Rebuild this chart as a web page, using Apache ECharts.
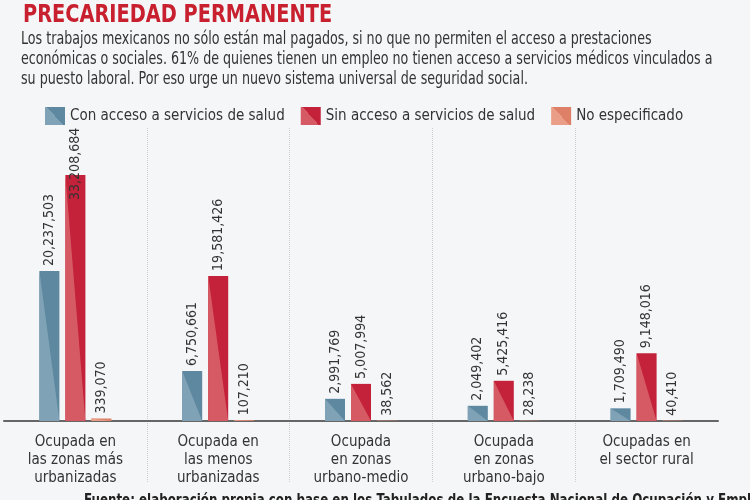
<!DOCTYPE html>
<html>
<head>
<meta charset="utf-8">
<script src="https://cdn.jsdelivr.net/npm/echarts@6/dist/echarts.min.js"></script>
<style>
  html, body { margin: 0; padding: 0; background: #f4f6f7; }
  #chart { width: 750px; height: 500px; }
</style>
</head>
<body>
<div id="chart"></div>
<script>
const categorias = [
  'Ocupada en\nlas zonas más\nurbanizadas',
  'Ocupada en\nlas menos\nurbanizadas',
  'Ocupada\nen zonas\nurbano-medio',
  'Ocupada\nen zonas\nurbano-bajo',
  'Ocupadas en\nel sector rural'
]
const seriesNames = ['Con acceso a servicios de salud', 'Sin acceso a servicios de salud', 'No especificado']
const conAcceso = [20237503, 6750661, 2991769, 2049402, 1709490]
const sinAcceso = [33208684, 19581426, 5007994, 5425416, 9148016]
const noEspecificado = [339070, 107210, 38562, 28238, 40410]

const FONT = '"DejaVu Sans Condensed", "Liberation Sans Narrow", sans-serif'
// color oscuro / claro de cada serie (triangulo claro abajo-izquierda)
const dark = ['#5d889f', '#c4213a', '#de8068']
const light = ['#7fa2b6', '#d65a63', '#ea9d87']
const BAR_W = 20
const offsets = [-26, 0, 26]

function fmt(v) {
  return String(v).replace(/\B(?=(\d{3})+(?!\d))/g, ',')
}

const chart = echarts.init(document.getElementById('chart'))

const labelBase = {
  show: true,
  position: 'top',
  rotate: 90,
  align: 'left',
  verticalAlign: 'middle',
  distance: 5,
  fontFamily: FONT,
  fontSize: 14,
  color: '#333',
  formatter: p => fmt(p.value)
}

function barSeries(idx, values) {
  return {
    name: seriesNames[idx],
    type: 'bar',
    barWidth: BAR_W,
    barGap: '30%',
    itemStyle: { color: dark[idx] },
    label: labelBase,
    z: 2,
    data: values.map((v, i) => {
      // la etiqueta de la barra mas alta se mete dentro de la barra
      if (idx === 1 && i === 0) return { value: v, label: { distance: -25 } }
      return v
    })
  }
}

function triangleSeries(idx, values) {
  return {
    type: 'custom',
    silent: true,
    z: 3,
    renderItem: (params, api) => {
      const top = api.coord([api.value(0), api.value(1)])
      const base = api.coord([api.value(0), 0])
      const x = top[0] + offsets[idx] - BAR_W / 2
      return {
        type: 'polygon',
        shape: { points: [[x, top[1]], [x + BAR_W, base[1]], [x, base[1]]] },
        style: { fill: light[idx] }
      }
    },
    data: values.map((v, i) => [i, v])
  }
}

const sepLine = {
  show: true,
  showMinLine: false,
  showMaxLine: false,
  lineStyle: { color: '#c9cdd0', type: 'dotted', width: 1 }
}

chart.setOption({
  backgroundColor: '#f4f6f7',
  legend: {
    left: 40,
    top: 102,
    itemWidth: 20,
    itemHeight: 18,
    itemGap: 16,
    textStyle: { color: '#333', fontSize: 15, fontFamily: FONT },
    data: seriesNames.map((n, i) => ({
      name: n,
      icon: 'rect',
      itemStyle: {
        color: new echarts.graphic.LinearGradient(0, 1, 1, 0, [
          { offset: 0, color: light[i] },
          { offset: 0.5, color: light[i] },
          { offset: 0.5, color: dark[i] },
          { offset: 1, color: dark[i] }
        ])
      }
    }))
  },
  grid: [
    { left: 4, right: 32, top: 128, bottom: 79, outerBoundsMode: 'none' },
    // segunda rejilla solo para prolongar los separadores por la zona de etiquetas
    { left: 4, right: 32, top: 421, bottom: 18, outerBoundsMode: 'none' }
  ],
  xAxis: [
    {
      type: 'category',
      data: categorias,
      axisLine: { lineStyle: { color: '#666', width: 2 } },
      axisTick: { show: false },
      splitLine: sepLine,
      axisLabel: {
        interval: 0,
        margin: 12,
        color: '#333',
        fontSize: 15,
        lineHeight: 18,
        fontFamily: FONT
      }
    },
    {
      type: 'category',
      gridIndex: 1,
      data: categorias,
      axisLine: { show: false },
      axisTick: { show: false },
      axisLabel: { show: false },
      splitLine: sepLine
    }
  ],
  yAxis: [
    { type: 'value', show: false, min: 0, max: 39540000, splitLine: { show: false } },
    { type: 'value', gridIndex: 1, show: false, min: 0, max: 1, splitLine: { show: false } }
  ],
  graphic: [
    {
      type: 'text',
      x: 23,
      y: 3,
      scaleX: 0.86,
      style: {
        text: 'PRECARIEDAD PERMANENTE',
        fill: '#c8202f',
        font: 'bold 25px ' + FONT
      }
    },
    {
      type: 'text',
      x: 21,
      y: 29,
      scaleX: 0.783,
      style: {
        text: 'Los trabajos mexicanos no sólo están mal pagados, si no que no permiten el acceso a prestaciones\n' +
          'económicas o sociales. 61% de quienes tienen un empleo no tienen acceso a servicios médicos vinculados a\n' +
          'su puesto laboral. Por eso urge un nuevo sistema universal de seguridad social.',
        fill: '#333',
        font: '18px ' + FONT,
        lineHeight: 20
      }
    },
    {
      type: 'text',
      x: 84,
      y: 494,
      scaleX: 0.88,
      style: {
        text: 'Fuente: elaboración propia con base en los Tabulados de la Encuesta Nacional de Ocupación y Empleo',
        fill: '#222',
        font: 'bold 15px ' + FONT
      }
    }
  ],
  series: [
    barSeries(0, conAcceso),
    barSeries(1, sinAcceso),
    barSeries(2, noEspecificado),
    triangleSeries(0, conAcceso),
    triangleSeries(1, sinAcceso),
    triangleSeries(2, noEspecificado)
  ]
})
</script>
</body>
</html>
